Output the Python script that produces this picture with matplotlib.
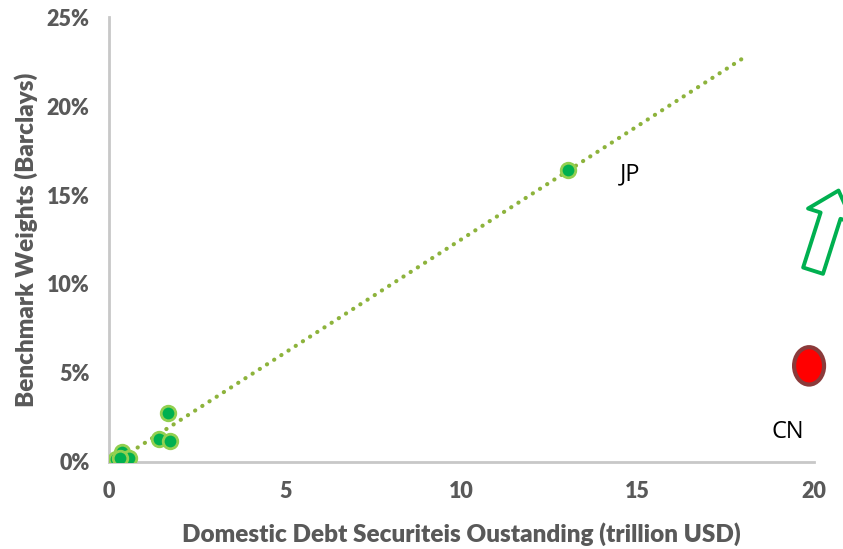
import numpy as np
import matplotlib
matplotlib.use("Agg")
import matplotlib.pyplot as plt
from matplotlib.patches import Ellipse, FancyArrowPatch

# data (trillion USD, benchmark weight %)
debt = [13.03, 1.67, 1.42, 1.73, 0.37, 0.20, 0.57, 0.31]
weight = [16.4, 2.75, 1.30, 1.20, 0.56, 0.17, 0.22, 0.20]
cn_debt = 19.86
cn_weight = 5.4
x_ticks = [0, 5, 10, 15, 20]
y_ticks = [0, 5, 10, 15, 20, 25]

plt.rcParams['font.family'] = ['Lato', 'DejaVu Sans']
grey = '#595959'

fig = plt.figure(figsize=(8.43, 5.49), dpi=100)
ax = fig.add_axes([0.1293, 0.1585, 0.8363, 0.8105])

# linear trend line, extended forward to 18
slope, icpt = np.polyfit(debt, weight, 1)
tx = np.array([min(debt), 18])
ax.plot(tx, slope * tx + icpt, linestyle=(0, (0.05, 2.0)), color='#8DB33C',
        lw=3, dash_capstyle='round', zorder=2)

ax.scatter(debt, weight, s=110, color='#00B050', edgecolor='#92D050',
           linewidth=2, zorder=3)

# China point
ax.add_patch(Ellipse((cn_debt, cn_weight), 0.85, 2.1, facecolor='#FF0000',
                     edgecolor='#8B3A3A', lw=3, zorder=4, clip_on=False))

ax.text(14.5, 15.8, 'JP', fontsize=17, color='black', family=['Open Sans', 'DejaVu Sans'])
ax.text(18.8, 1.35, 'CN', fontsize=17, color='black', family=['Open Sans', 'DejaVu Sans'])

# hollow up arrow
arrow = FancyArrowPatch((19.95, 10.6), (20.72, 15.4),
                        arrowstyle='simple,head_length=0.95,head_width=1.7,tail_width=0.75',
                        mutation_scale=20, facecolor='white', edgecolor='#00B050',
                        lw=2.8, clip_on=False, zorder=5)
ax.add_patch(arrow)

ax.set_xlim(0, 20)
ax.set_ylim(0, 25)
ax.set_xticks(x_ticks)
ax.set_yticks(y_ticks)
ax.set_yticklabels([f'{t}%' for t in y_ticks])
ax.tick_params(length=0, labelsize=15.5, colors=grey, pad=14)
for lab in ax.get_xticklabels() + ax.get_yticklabels():
    lab.set_fontweight('heavy')

for s in ['top', 'right']:
    ax.spines[s].set_visible(False)
for s in ['left', 'bottom']:
    ax.spines[s].set_color('#C8C8C8')
    ax.spines[s].set_linewidth(2)

ax.set_xlabel('Domestic Debt Securiteis Oustanding (trillion USD)', fontsize=17.5,
              fontweight='heavy', color=grey, labelpad=14)
ax.set_ylabel('Benchmark Weights (Barclays)', fontsize=17.5, fontweight='heavy',
              color=grey, labelpad=6)

fig.savefig('out.png', dpi=100)
